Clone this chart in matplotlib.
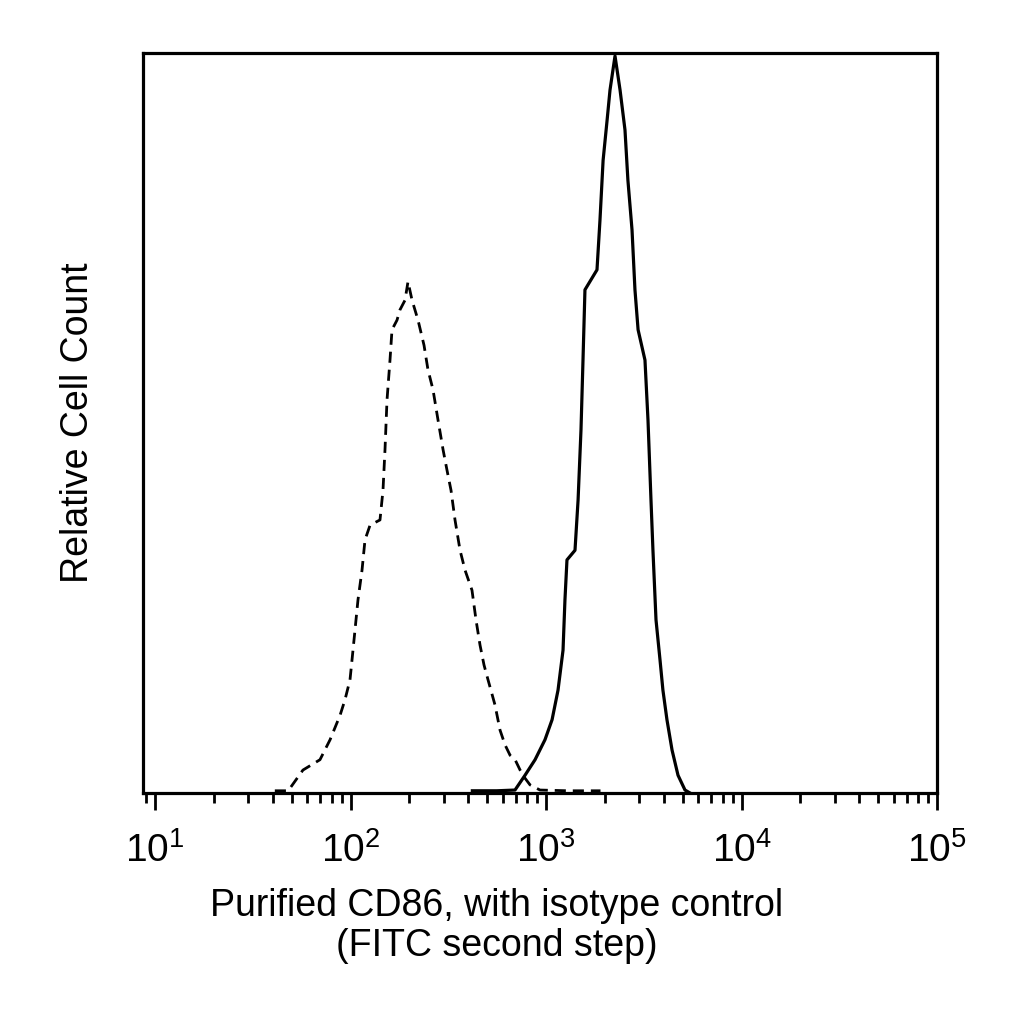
import matplotlib
matplotlib.use("Agg")
import matplotlib.pyplot as plt
from matplotlib.ticker import FixedLocator, LogLocator, NullFormatter

plt.rcParams['font.family'] = ['Liberation Sans', 'DejaVu Sans']
plt.rcParams['mathtext.fontset'] = 'custom'
plt.rcParams['mathtext.rm'] = 'Liberation Sans'
plt.rcParams['mathtext.default'] = 'regular'

# CD86 (solid) histogram: fluorescence intensity vs relative count
cd86_x = [420, 560, 694, 781, 879, 988, 1074, 1152, 1222, 1250, 1280, 1407, 1459, 1510,
          1546, 1582, 1823, 1888, 1959, 2053, 2125, 2254, 2392, 2535, 2624, 2754,
          2851, 2958, 3208, 3324, 3443, 3524, 3653, 3829, 3963, 4156, 4413, 4734,
          5140, 5454]
cd86_y = [0.3, 0.3, 0.4, 2.4, 4.5, 7.2, 9.9, 13.9, 19.3, 26.1, 31.5, 32.8, 39.6, 49.1,
          58.5, 68.0, 70.7, 77.4, 85.5, 90.9, 95.0, 99.6, 95.0, 89.6, 82.8, 76.1,
          68.0, 62.6, 58.5, 50.4, 39.6, 32.8, 23.4, 18.0, 13.9, 9.9, 5.8, 2.4,
          0.4, 0.0]

# Isotype control (dashed) histogram
iso_x = [41, 48, 57.1, 69.8, 78.6, 88.4, 93.7, 99.4, 101.8, 105.4, 109.2, 114.5, 118.6,
         125.9, 141.5, 146.6, 150.1, 153.7, 159.2, 163.0, 172.9, 179.1, 190.0, 196.8,
         206.4, 221.5, 237.7, 249.0, 264.2, 280.3, 297.4, 311.7, 326.7, 342.4, 363.3,
         385.5, 418.2, 438.4, 459.6, 481.8, 505.1, 548.3, 581.8, 617.3, 654.9, 694.9,
         736.9, 781, 828.2, 931.6, 1300, 1900]
iso_y = [0.3, 0.3, 3.1, 4.5, 7.2, 10.5, 12.6, 15.3, 18.0, 22.0, 26.1, 30.1, 34.2,
         36.2, 36.9, 40.9, 46.4, 53.1, 58.5, 62.6, 63.9, 65.3, 66.6, 69.1,
         66.6, 63.9, 60.5, 57.2, 54.5, 50.4, 46.4, 43.6, 40.9, 36.9, 32.8,
         30.1, 27.4, 23.4, 20.0, 17.3, 15.3, 11.9, 8.5, 6.5, 5.1, 4.5,
         3.1, 2.0, 1.1, 0.4, 0.3, 0.3]

major_ticks = [1e1, 1e2, 1e3, 1e4, 1e5]
major_labels = [r'$10^{1}$', r'$10^{2}$', r'$10^{3}$', r'$10^{4}$', r'$10^{5}$']

fig = plt.figure(figsize=(10.24, 10.24), dpi=100)
ax = fig.add_axes([143/1024, 1 - 793/1024, (937 - 143)/1024, (793 - 53)/1024])

ax.plot(iso_x, iso_y, color='black', lw=2.0, linestyle=(0, (4, 2.5)))
ax.plot(cd86_x, cd86_y, color='black', lw=2.3)

ax.set_xscale('log')
ax.set_xlim(8.68, 1e5)
ax.set_ylim(0, 100)

ax.xaxis.set_major_locator(FixedLocator(major_ticks))
ax.set_xticklabels(major_labels, fontsize=28)
ax.xaxis.set_minor_locator(LogLocator(base=10, subs=range(2, 10), numticks=20))
ax.xaxis.set_minor_formatter(NullFormatter())
ax.tick_params(axis='x', which='major', direction='out', length=12.5, width=2.0, pad=16)
ax.tick_params(axis='x', which='minor', direction='out', length=7, width=2.0)
ax.set_yticks([])

for s in ax.spines.values():
    s.set_linewidth(2.3)

ax.set_xlabel('Purified CD86, with isotype control\n(FITC second step)',
              fontsize=27, linespacing=1.15)
ax.xaxis.set_label_coords((497 - 143) / 794, -(888 - 793) / 740)
ax.set_ylabel('Relative Cell Count', fontsize=27)
ax.yaxis.label.set_va('center')
ax.yaxis.set_label_coords((78 - 143) / 794, 0.5)

fig.savefig('out.png', dpi=100, facecolor='white')
